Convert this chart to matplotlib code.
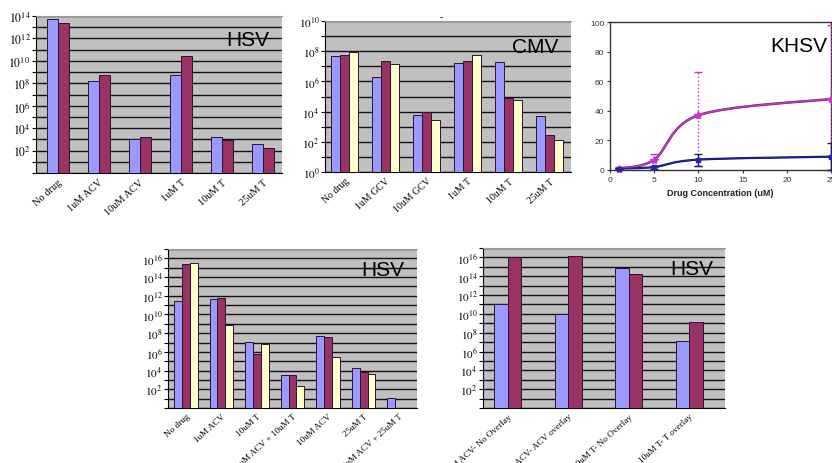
import numpy as np
import matplotlib
matplotlib.use("Agg")
import matplotlib.pyplot as plt
import matplotlib.transforms as mtransforms
from matplotlib.path import Path
from matplotlib.patches import PathPatch

plt.rcParams['mathtext.fontset'] = 'stix'
plt.rcParams['font.family'] = ['Liberation Serif', 'DejaVu Serif']

# ---------------- data (log10 of values) ----------------
hsv1_cats = ["No drug", "1uM ACV", "10uM ACV", "1uM T", "10uM T", "25uM T"]
hsv1_blue = [13.7, 8.2, 3.07, 8.7, 3.2, 2.6]
hsv1_red = [13.4, 8.7, 3.2, 10.4, 2.96, 2.27]

cmv_cats = ["No drug", "1uM GCV", "10uM GCV", "1uM T", "10uM T", "25uM T"]
cmv_blue = [7.65, 6.26, 3.78, 7.25, 7.3, 3.69]
cmv_red = [7.74, 7.34, 3.96, 7.36, 4.9, 2.46]
cmv_yellow = [7.96, 7.14, 3.47, 7.76, 4.77, 2.15]

khsv_x = [1, 5, 10, 25]
khsv_mag = [1, 7, 37, 48]
khsv_mag_lo = [0.5, 4, 34, 48]
khsv_mag_hi = [1, 4, 29, 50]
khsv_blue = [1, 2, 7, 9]
khsv_blue_lo = [0.5, 1, 4, 9]
khsv_blue_hi = [0.5, 1, 4, 9]
khsv_xticks = [0, 5, 10, 15, 20, 25]
khsv_yticks = [0, 20, 40, 60, 80, 100]

hsv2_cats = ["No drug", "1uM ACV", "10uM T", "1uM ACV + 10uM T", "10uM ACV",
             "25uM T", "10uM ACV + 25uM T"]
hsv2_blue = [11.4, 11.7, 7.1, 3.5, 7.7, 4.3, 1.07]
hsv2_red = [15.4, 11.8, 5.8, 3.5, 7.6, 3.8, np.nan]
hsv2_yellow = [15.5, 8.9, 6.8, 2.3, 5.5, 3.6, np.nan]

hsv3_cats = ["10uM ACV- No Overlay", "10uM ACV- ACV overlay",
             "10uM T- No Overlay", "10uM T- T overlay"]
hsv3_blue = [11.0, 10.0, 14.9, 7.1]
hsv3_red = [16.0, 16.1, 14.2, 9.1]

BLUE = '#9999FF'
RED = '#993366'
YEL = '#FFFFCC'
GRAY = '#C0C0C0'

fig = plt.figure(figsize=(8.32, 4.64), dpi=100)


def bar_panel(rect, cats, series, colors, width, ylim_top, label_decades,
              xlim, title, title_xy, cat_fs, ytick_fs, dx=0):
    ax = fig.add_axes(rect)
    ax.set_facecolor(GRAY)
    x = np.arange(len(cats))
    n = len(series)
    for i, (vals, c) in enumerate(zip(series, colors)):
        off = (i - (n - 1) / 2) * width
        v = np.array(vals, dtype=float)
        ax.bar(x + off, np.power(10.0, v), width=width, color=c,
               edgecolor='#301030', linewidth=0.7, zorder=3, bottom=0)
    ax.set_yscale('log')
    ax.set_ylim(1, 10 ** ylim_top)
    ax.set_xlim(*xlim)
    decs = list(range(0, int(np.floor(ylim_top)) + 1))
    ax.set_yticks([10.0 ** d for d in decs])
    ax.set_yticklabels([(r'$10^{%d}$' % d) if d in label_decades else ''
                        for d in decs])
    ax.yaxis.set_minor_locator(matplotlib.ticker.NullLocator())
    ax.grid(axis='y', color='#111111', linewidth=1.0, zorder=1)
    ax.set_xticks(x)
    ax.set_xticklabels(cats, rotation=42, ha='right', rotation_mode='anchor',
                       fontsize=cat_fs)
    if dx:
        off = mtransforms.ScaledTranslation(dx / 100.0, 0, fig.dpi_scale_trans)
        for lab in ax.get_xticklabels():
            lab.set_transform(lab.get_transform() + off)
    ax.tick_params(axis='x', length=0, pad=3)
    ax.tick_params(axis='y', labelsize=ytick_fs, length=3, width=0.8, pad=1)
    ax.spines['right'].set_visible(False)
    ax.spines['top'].set_color('#999999')
    ax.spines['left'].set_color('black')
    ax.spines['bottom'].set_color('black')
    ax.text(title_xy[0], title_xy[1], title, transform=ax.transAxes,
            fontsize=15, family='Liberation Sans', ha='right', va='center',
            zorder=5)
    return ax


# Panel 1: HSV top-left
bar_panel([36 / 832, 1 - 174 / 464, 246 / 832, 157 / 464], hsv1_cats,
          [hsv1_blue, hsv1_red], [BLUE, RED], 0.27, 14.0,
          [2, 4, 6, 8, 10, 12, 14], (-0.53, 5.47), "HSV", (0.95, 0.85),
          7.5, 8.5, dx=6)

# Panel 2: CMV
bar_panel([325 / 832, 1 - 173 / 464, 246 / 832, 151 / 464], cmv_cats,
          [cmv_blue, cmv_red, cmv_yellow], [BLUE, RED, YEL], 0.22, 10.0,
          [0, 2, 4, 6, 8, 10], (-0.48, 5.52), "CMV", (0.95, 0.83),
          7.0, 8.0, dx=5)
fig.text(441 / 832, 1 - 18 / 464, "-", fontsize=7, ha='center', va='center')

# Panel 4: HSV bottom-left
bar_panel([168 / 832, 1 - 409 / 464, 249 / 832, 159 / 464], hsv2_cats,
          [hsv2_blue, hsv2_red, hsv2_yellow], [BLUE, RED, YEL], 0.22, 17.0,
          [2, 4, 6, 8, 10, 12, 14, 16], (-0.5, 6.5), "HSV", (0.95, 0.87),
          6.6, 8.0, dx=4)

# Panel 5: HSV bottom-right
bar_panel([483 / 832, 1 - 409 / 464, 242 / 832, 160 / 464], hsv3_cats,
          [hsv3_blue, hsv3_red], [BLUE, RED], 0.22, 17.0,
          [2, 4, 6, 8, 10, 12, 14, 16], (-0.41, 3.59), "HSV", (0.95, 0.87),
          6.6, 8.0, dx=20)

# Panel 3: KHSV
ax3 = fig.add_axes([610 / 832, 1 - 171 / 464, 221 / 832, 148 / 464])
ax3.set_xlim(0, 25)
ax3.set_ylim(0, 100)


def smooth_path(xs, ys):
    pts = np.column_stack([xs, ys]).astype(float)
    ext = np.vstack([pts[0], pts, pts[-1]])
    verts = [tuple(pts[0])]
    codes = [Path.MOVETO]
    for i in range(1, len(ext) - 2):
        p0, p1, p2, p3 = ext[i - 1], ext[i], ext[i + 1], ext[i + 2]
        c1 = p1 + (p2 - p0) / 6.0
        c2 = p2 - (p3 - p1) / 6.0
        verts += [tuple(c1), tuple(c2), tuple(p2)]
        codes += [Path.CURVE4] * 3
    return Path(verts, codes)


for ys, col, edge, lw in [(khsv_mag, '#CC33CC', '#552255', 1.1),
                          (khsv_blue, '#2222AA', '#111155', 0.9)]:
    ax3.add_patch(PathPatch(smooth_path(khsv_x, ys), facecolor='none',
                            edgecolor=edge, lw=lw + 0.7, zorder=3,
                            clip_on=False))
    ax3.add_patch(PathPatch(smooth_path(khsv_x, ys), facecolor='none',
                            edgecolor=col, lw=lw, zorder=4,
                            clip_on=False))

eb = ax3.errorbar(khsv_x, khsv_mag, yerr=[khsv_mag_lo, khsv_mag_hi],
                  fmt='*', color='#CC33CC', ms=6, ecolor='#CC33CC',
                  elinewidth=1.0, capsize=3, zorder=5, clip_on=False)
eb[2][0].set_linestyle(':')
eb2 = ax3.errorbar(khsv_x, khsv_blue, yerr=[khsv_blue_lo, khsv_blue_hi],
                   fmt='s', color='#2222AA', ms=3.5, ecolor='#1a1a66',
                   elinewidth=1.0, capsize=3, zorder=6, clip_on=False)
ax3.set_xticks(khsv_xticks)
ax3.set_yticks(khsv_yticks)
for lab in ax3.get_xticklabels() + ax3.get_yticklabels():
    lab.set_family('Liberation Sans')
ax3.tick_params(labelsize=6, length=2, width=0.8, colors='#333333', pad=2)
ax3.set_xlabel("Drug Concentration (uM)", fontsize=6.5, fontweight='bold',
               family='Liberation Sans', labelpad=4, color='#222222')
for s in ax3.spines.values():
    s.set_linewidth(1.0)
    s.set_color('#333333')
ax3.text(0.985, 0.84, "KHSV", transform=ax3.transAxes, fontsize=15,
         family='Liberation Sans', ha='right', va='center')

fig.savefig("out.png", dpi=100)
